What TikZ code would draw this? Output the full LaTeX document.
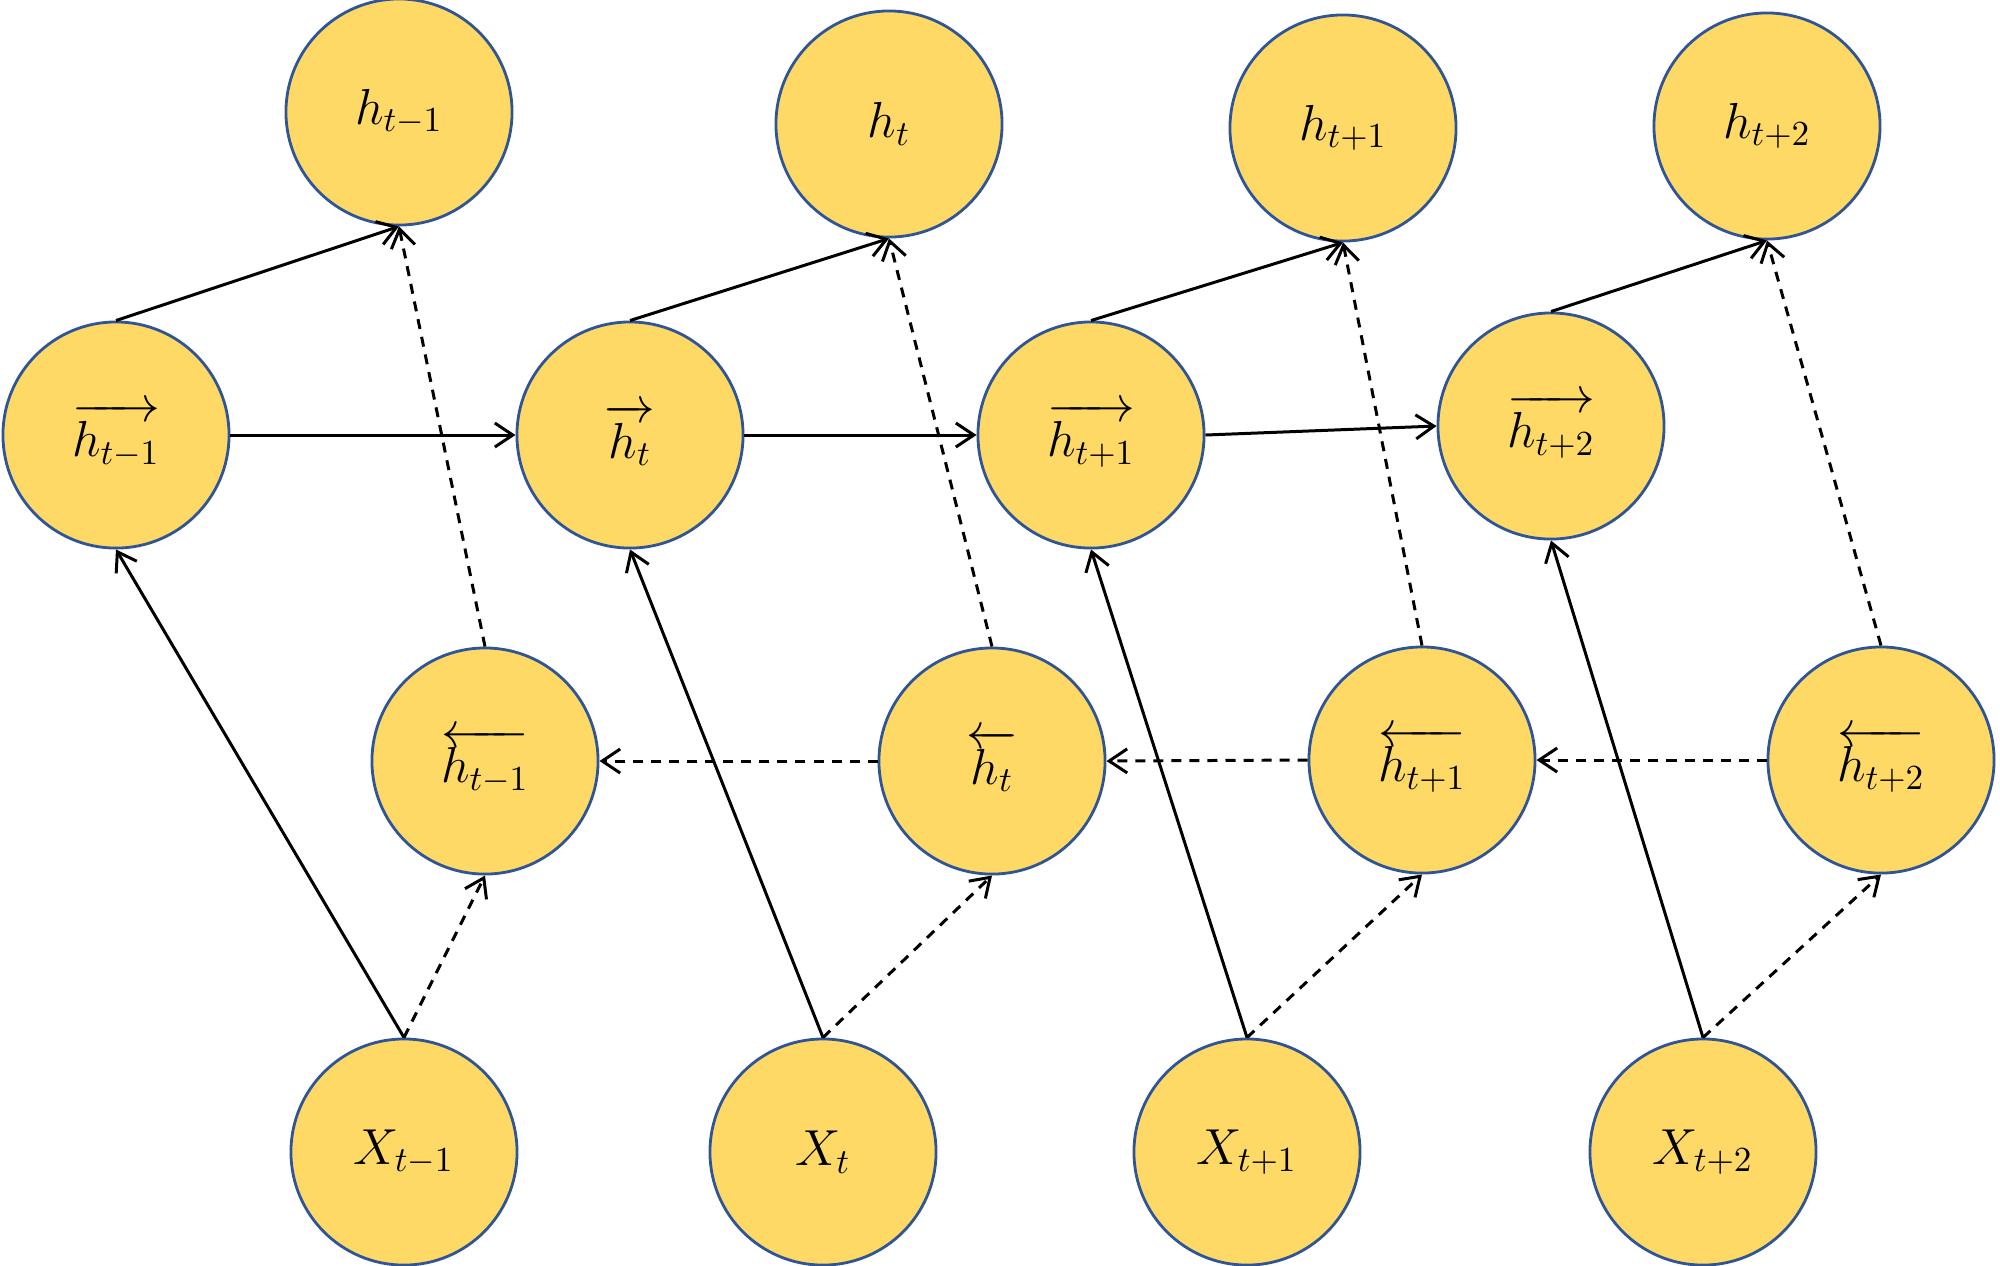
\documentclass[tikz,border=0pt]{standalone}
\usepackage{tikz}
\usetikzlibrary{arrows.meta}
\usepackage{amsmath}
\usepackage{xcolor}
\definecolor{cellgold}{HTML}{FFD966}
\definecolor{cellblue}{HTML}{2F5597}

\begin{document}
\begin{tikzpicture}[x=0.01cm, y=-0.01cm,
    cell/.style={circle, draw=cellblue, line width=0.8pt, fill=cellgold,
      minimum size=2.26cm, inner sep=0pt, font=\Large},
    fwdarrow/.style={-{Straight Barb[length=1.8mm, width=2.4mm]}, line width=0.85pt},
    bwdarrow/.style={fwdarrow, dash pattern=on 1mm off 0.8mm}]
  \useasboundingbox (0,0) rectangle (2000,1265);

  % outputs
  \node[cell] (h1) at (399,112) {$h_{t-1}$};
  \node[cell] (h2) at (889,124) {$h_{t}$};
  \node[cell] (h3) at (1343,128) {$h_{t+1}$};
  \node[cell] (h4) at (1767,126) {$h_{t+2}$};

  % forward states
  \node[cell] (f1) at (116,435) {$\overrightarrow{h_{t-1}}$};
  \node[cell] (f2) at (630,435) {$\overrightarrow{h_{t}}$};
  \node[cell] (f3) at (1091,435) {$\overrightarrow{h_{t+1}}$};
  \node[cell] (f4) at (1551,426) {$\overrightarrow{h_{t+2}}$};

  % backward states
  \node[cell] (b1) at (485,761) {$\overleftarrow{h_{t-1}}$};
  \node[cell] (b2) at (992,761) {$\overleftarrow{h_{t}}$};
  \node[cell] (b3) at (1422,760) {$\overleftarrow{h_{t+1}}$};
  \node[cell] (b4) at (1881,760) {$\overleftarrow{h_{t+2}}$};

  % inputs
  \node[cell] (x1) at (404,1152) {$X_{t-1}$};
  \node[cell] (x2) at (823,1152) {$X_{t}$};
  \node[cell] (x3) at (1247,1152) {$X_{t+1}$};
  \node[cell] (x4) at (1703,1152) {$X_{t+2}$};

  \foreach \i in {1,...,4} {
    \draw[fwdarrow] (f\i.north) -- (h\i.south);
    \draw[bwdarrow] (b\i.north) -- (h\i.south);
    \draw[fwdarrow] (x\i.north) -- (f\i.south);
    \draw[bwdarrow] (x\i.north) -- (b\i.south);
  }
  \foreach \i/\j in {1/2, 2/3, 3/4} {
    \draw[fwdarrow] (f\i.east) -- (f\j.west);
    \draw[bwdarrow] (b\j.west) -- (b\i.east);
  }
\end{tikzpicture}
\end{document}
